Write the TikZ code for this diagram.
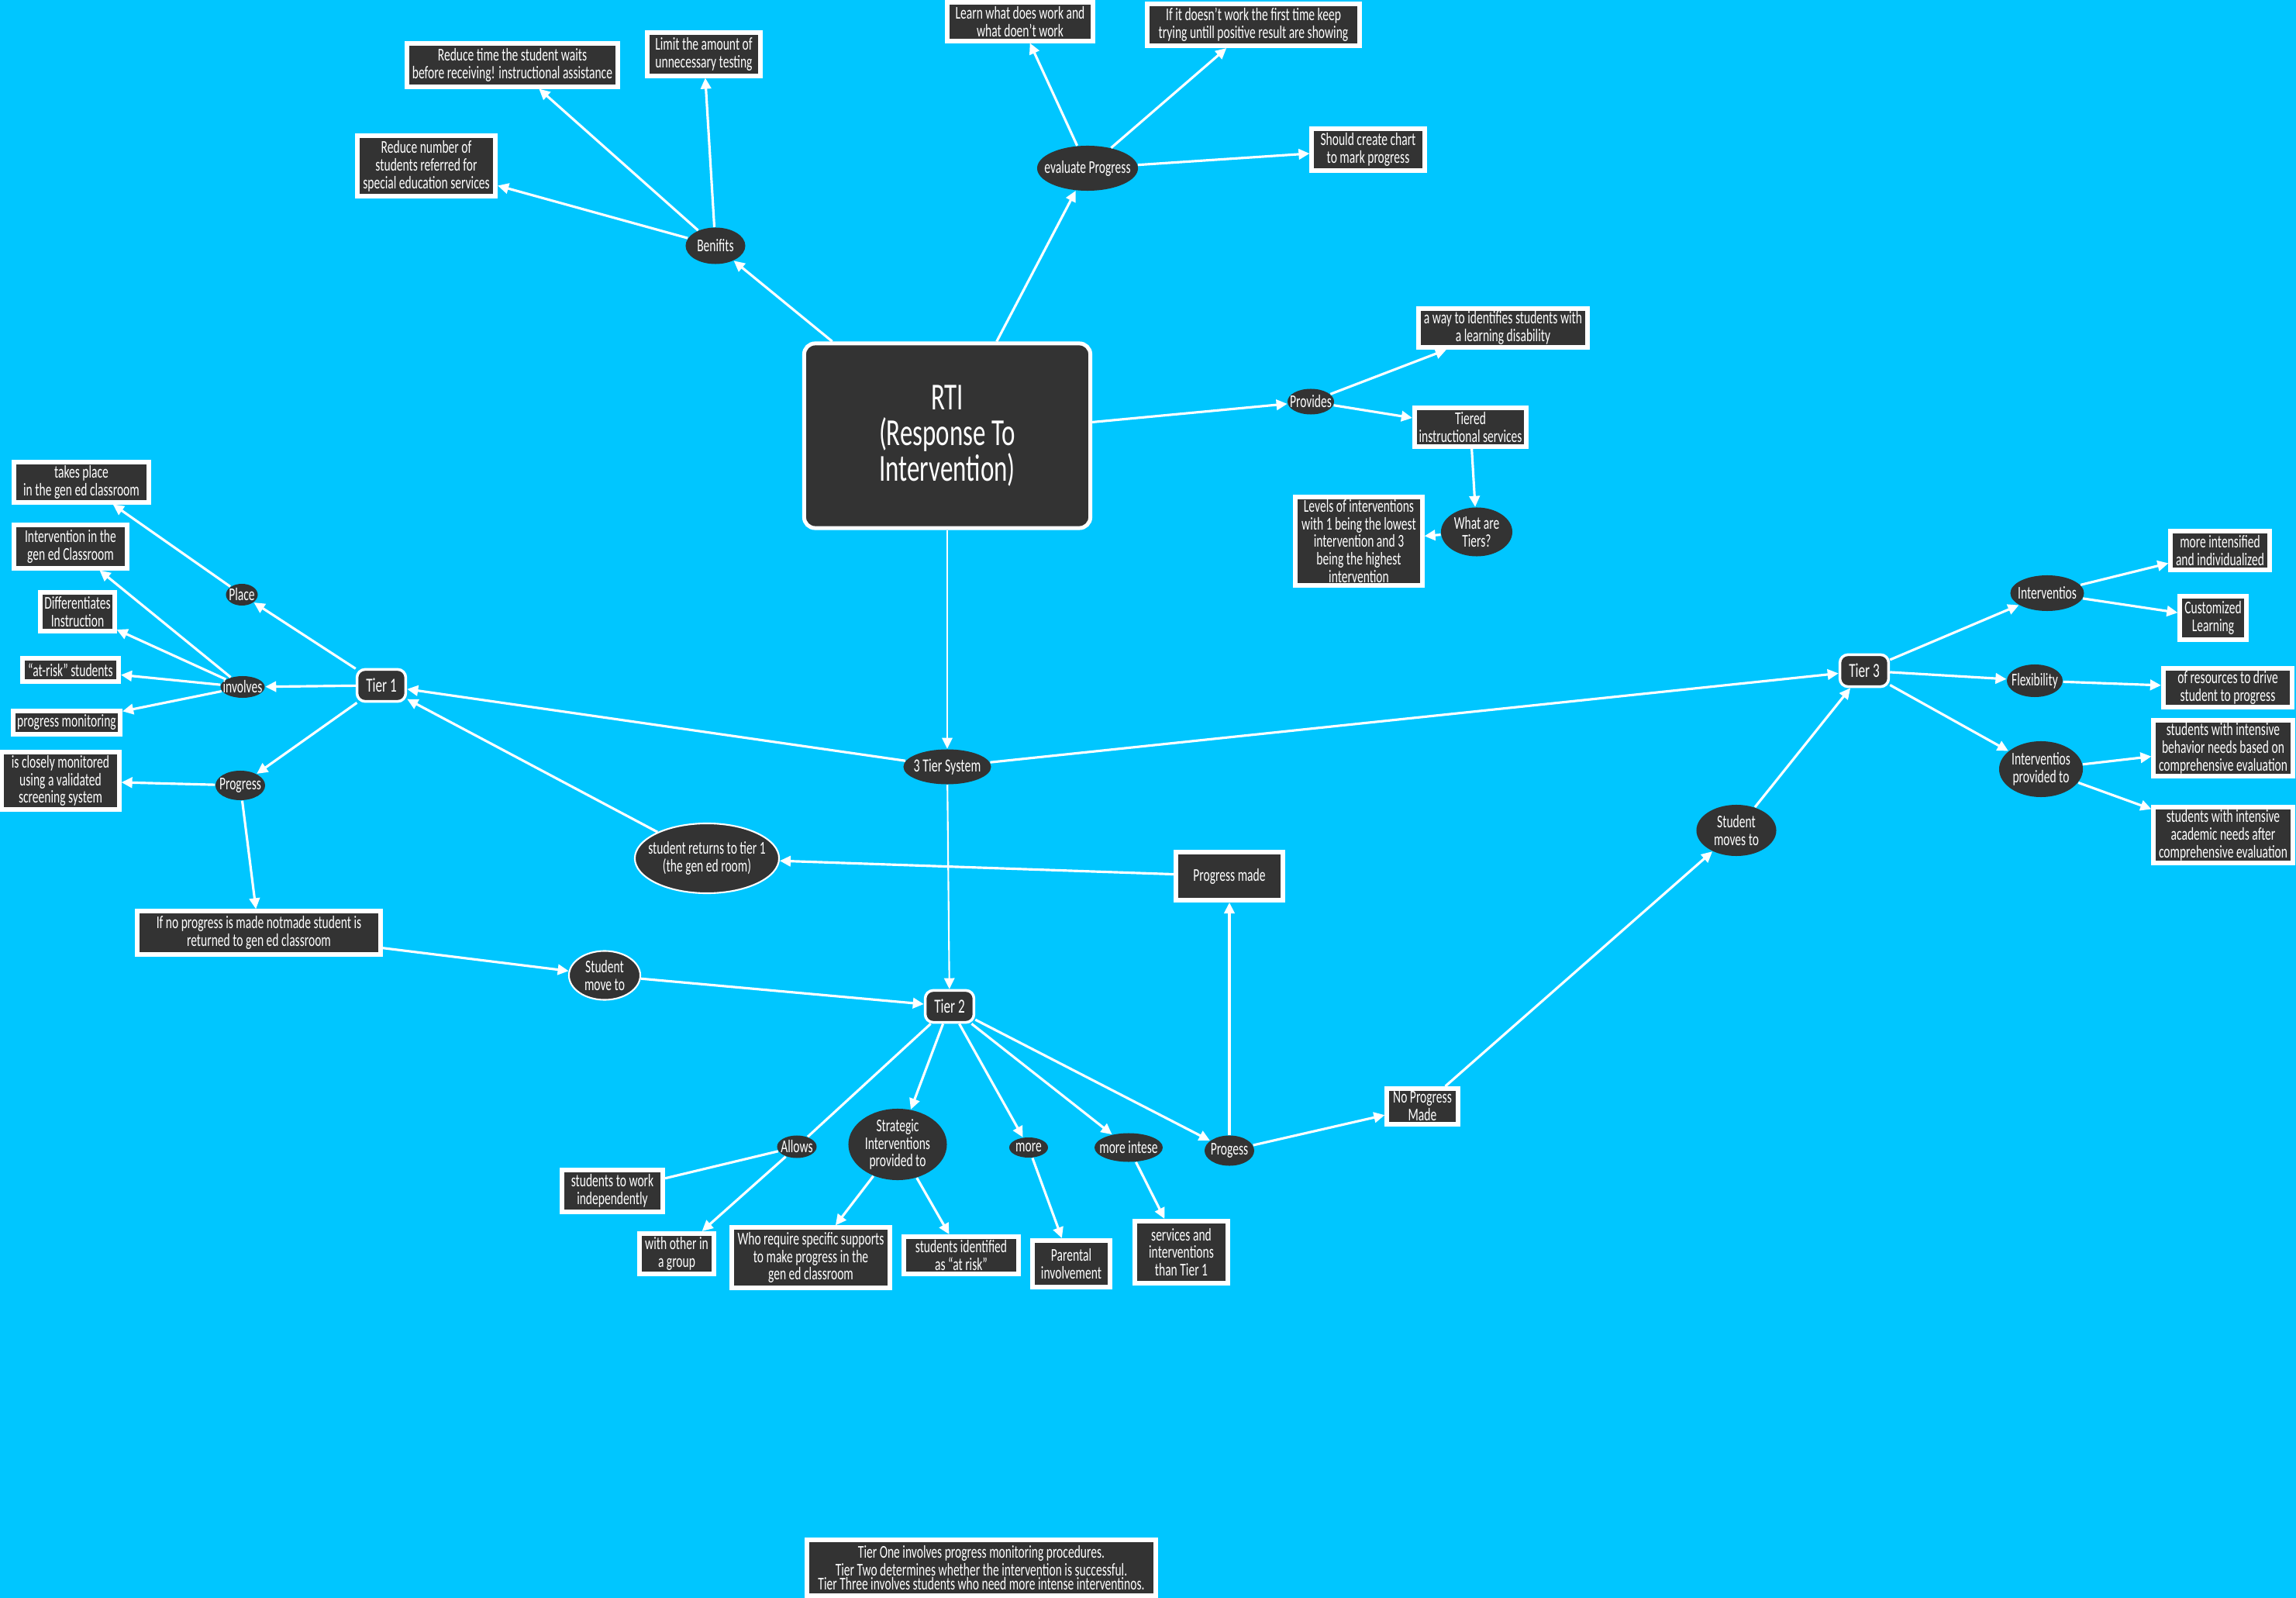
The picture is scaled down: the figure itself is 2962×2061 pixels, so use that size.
\documentclass[tikz,border=0pt]{standalone}
\usepackage{fontspec}
\setmainfont{Carlito}[FakeStretch=0.67]
\usetikzlibrary{shapes.geometric, arrows.meta, positioning}
\definecolor{sky}{RGB}{0,198,255}
\definecolor{slate}{RGB}{51,51,51}

\begin{document}
\begin{tikzpicture}[x=0.01cm, y=-0.01cm, font=\fontsize{6.6}{6.5}\selectfont,
    box/.style={rectangle, fill=slate, draw=white, line width=0.06cm,
      text=white, align=center, inner sep=0.5pt},
    bubble/.style={ellipse, fill=slate, text=white, align=center,
      inner xsep=-12pt, inner ysep=-5pt},
    tierbox/.style={rectangle, rounded corners=3pt, fill=slate, draw=white,
      line width=0.035cm, text=white, font=\fontsize{7.3}{7.3}\selectfont},
    link/.style={draw=white, line width=0.9pt, -{Triangle[length=4pt, width=3.8pt]}},
    bare/.style={draw=white, line width=0.9pt}]
  \fill[sky] (0,0) rectangle (2962,2061);
  \useasboundingbox (0,0) rectangle (2962,2061);

  % centre
  \node[rectangle, rounded corners=4pt, fill=slate, draw=white, line width=0.05cm,
    text=white, align=center, font=\fontsize{14}{13}\selectfont,
    minimum width=3.69cm, minimum height=2.38cm] (rti) at (1222,562)
    {RTI\\(Response To\\Intervention)};
  \node[bubble, minimum width=1.13cm, minimum height=0.45cm,
    font=\fontsize{6.8}{6.8}\selectfont] (three) at (1222,989) {3 Tier System};

  % benefits
  \node[bubble, minimum width=0.77cm, minimum height=0.47cm] (ben) at (923,317) {Benifits};
  \node[box, minimum width=2.71cm, minimum height=0.55cm] (wait) at (661,84)
    {Reduce time the student waits\\before receiving! instructional assistance};
  \node[box, minimum width=1.45cm, minimum height=0.55cm] (limit) at (908,70)
    {Limit the amount of\\unnecessary testing};
  \node[box, minimum width=1.78cm, minimum height=0.77cm] (refer) at (550,214)
    {Reduce number of\\students referred for\\special education services};

  % evaluate progress
  \node[bubble, minimum width=1.30cm, minimum height=0.58cm] (evp) at (1403,217) {evaluate Progress};
  \node[box, minimum width=1.88cm, minimum height=0.49cm] (learn) at (1316,28)
    {Learn what does work and\\what doen't work};
  \node[box, minimum width=2.74cm, minimum height=0.54cm] (keep) at (1617,32)
    {If it doesn't work the first time keep\\trying untill positive result are showing};
  \node[box, minimum width=1.45cm, minimum height=0.54cm] (chart) at (1765,193)
    {Should create chart\\to mark progress};

  % provides
  \node[bubble, minimum width=0.60cm, minimum height=0.33cm] (prov) at (1691,518) {Provides};
  \node[box, minimum width=2.18cm, minimum height=0.50cm] (ident) at (1939,423)
    {a way to identifies students with\\a learning disability};
  \node[box, minimum width=1.44cm, minimum height=0.50cm] (tiered) at (1897,551)
    {Tiered\\instructional services};
  \node[bubble, minimum width=0.92cm, minimum height=0.63cm] (what) at (1905,686) {What are\\Tiers?};
  \node[box, minimum width=1.63cm, minimum height=1.14cm] (levels) at (1753,698)
    {Levels of interventions\\with 1 being the lowest\\intervention and 3\\being the highest\\intervention};

  % tier 1
  \node[tierbox, minimum width=0.60cm, minimum height=0.33cm] (tier1) at (492,884) {Tier 1};
  \node[bubble, minimum width=0.41cm, minimum height=0.28cm] (place) at (312,767) {Place};
  \node[bubble, minimum width=0.57cm, minimum height=0.28cm] (inv) at (313,886) {involves};
  \node[bubble, minimum width=0.64cm, minimum height=0.38cm] (progl) at (310,1013) {Progress};
  \node[box, minimum width=1.73cm, minimum height=0.51cm] (takes) at (105,622)
    {takes place\\in the gen ed classroom};
  \node[box, minimum width=1.45cm, minimum height=0.55cm] (gened) at (91,705)
    {Intervention in the\\gen ed Classroom};
  \node[box, minimum width=0.95cm, minimum height=0.50cm] (diff) at (100,789)
    {Differentiates\\Instruction};
  \node[box, minimum width=1.24cm, minimum height=0.30cm] (risk) at (91,864)
    {“at-risk” students};
  \node[box, minimum width=1.38cm, minimum height=0.29cm] (monit) at (86,932)
    {progress monitoring};
  \node[box, minimum width=1.51cm, minimum height=0.74cm] (close) at (78,1007)
    {is closely monitored\\using a validated\\screening system};
  \node[box, minimum width=3.14cm, minimum height=0.55cm] (noprog) at (334,1203)
    {If no progress is made notmade student is\\returned to gen ed classroom};
  \node[bubble, draw=white, line width=0.6pt, minimum width=0.92cm, minimum height=0.63cm]
    (move) at (780,1258) {Student\\move to};
  \node[bubble, draw=white, line width=0.6pt, minimum width=1.86cm, minimum height=0.90cm]
    (back) at (912,1107) {student returns to tier 1\\(the gen ed room)};
  \node[box, minimum width=1.37cm, minimum height=0.62cm] (made) at (1586,1130) {Progress made};

  % tier 2
  \node[tierbox, minimum width=0.62cm, minimum height=0.34cm] (tier2) at (1225,1298) {Tier 2};
  \node[bubble, minimum width=0.51cm, minimum height=0.29cm] (allow) at (1028,1479) {Allows};
  \node[bubble, minimum width=1.27cm, minimum height=0.92cm] (strat) at (1158,1476)
    {Strategic\\Interventions\\provided to};
  \node[bubble, minimum width=0.50cm, minimum height=0.26cm] (more) at (1327,1480) {more};
  \node[bubble, minimum width=0.88cm, minimum height=0.37cm] (intese) at (1456,1480) {more intese};
  \node[bubble, minimum width=0.64cm, minimum height=0.39cm] (progs) at (1586,1484) {Progess};
  \node[box, minimum width=1.30cm, minimum height=0.53cm] (indep) at (790,1536)
    {students to work\\independently};
  \node[box, minimum width=0.96cm, minimum height=0.52cm] (group) at (873,1617)
    {with other in\\a group};
  \node[box, minimum width=2.03cm, minimum height=0.77cm] (needs) at (1046,1622)
    {Who require specific supports\\to make progress in the\\gen ed classroom};
  \node[box, minimum width=1.47cm, minimum height=0.48cm] (asrisk) at (1240,1619)
    {students identified\\as “at risk”};
  \node[box, minimum width=1.00cm, minimum height=0.60cm] (parent) at (1382,1630)
    {Parental\\involvement};
  \node[box, minimum width=1.20cm, minimum height=0.80cm] (serv) at (1524,1615)
    {services and\\interventions\\than Tier 1};
  \node[box, minimum width=0.91cm, minimum height=0.46cm] (nomade) at (1835,1427)
    {No Progress\\Made};

  % tier 3
  \node[bubble, minimum width=1.03cm, minimum height=0.66cm] (moves) at (2240,1071) {Student\\moves to};
  \node[tierbox, minimum width=0.59cm, minimum height=0.33cm] (tier3) at (2405,865) {Tier 3};
  \node[bubble, minimum width=0.95cm, minimum height=0.46cm] (intv) at (2641,765) {Interventios};
  \node[bubble, minimum width=0.72cm, minimum height=0.42cm] (flex) at (2625,878) {Flexibility};
  \node[bubble, minimum width=1.08cm, minimum height=0.72cm] (intpr) at (2633,992)
    {Interventios\\provided to};
  \node[box, minimum width=1.27cm, minimum height=0.49cm] (indiv) at (2864,710)
    {more intensified\\and individualized};
  \node[box, minimum width=0.85cm, minimum height=0.55cm] (custom) at (2855,797)
    {Customized\\Learning};
  \node[box, minimum width=1.66cm, minimum height=0.50cm] (res) at (2874,887)
    {of resources to drive\\student to progress};
  \node[box, minimum width=1.79cm, minimum height=0.72cm] (behav) at (2868,965)
    {students with intensive\\behavior needs based on\\comprehensive evaluation};
  \node[box, minimum width=1.79cm, minimum height=0.72cm] (acad) at (2868,1077)
    {students with intensive\\academic needs after\\comprehensive evaluation};

  % note
  \node[box, minimum width=4.49cm, minimum height=0.72cm,
    font=\fontsize{6.6}{5.2}\selectfont] (note) at (1266,2022)
    {Tier One involves progress monitoring procedures.\\Tier Two determines whether the intervention is successful.\\Tier Three involves students who need more intense interventinos.};

  % connectors
  \draw[link, line width=0.6pt] (rti) -- (three);
  \draw[link, line width=0.6pt] (three) -- (tier2);
  \foreach \a/\b in {rti/ben, rti/evp, rti/prov, ben/refer, ben/wait, ben/limit,
      evp/learn, evp/keep, evp/chart, prov/ident, prov/tiered, tiered/what, what/levels,
      three/tier1, three/tier3, tier1/place, tier1/inv, tier1/progl, place/takes,
      inv/gened, inv/diff, inv/risk, inv/monit, progl/close, progl/noprog, noprog/move,
      move/tier2, back/tier1, made/back, tier2/strat, tier2/more, tier2/intese,
      tier2/progs, allow/group, strat/needs, strat/asrisk, more/parent, intese/serv,
      progs/made, progs/nomade, nomade/moves, moves/tier3, tier3/intv, tier3/flex,
      tier3/intpr, intv/indiv, intv/custom, flex/res, intpr/behav, intpr/acad}
    \draw[link] (\a) -- (\b);
  \foreach \a/\b in {tier2/allow, allow/indep}
    \draw[bare] (\a) -- (\b);
\end{tikzpicture}
\end{document}
